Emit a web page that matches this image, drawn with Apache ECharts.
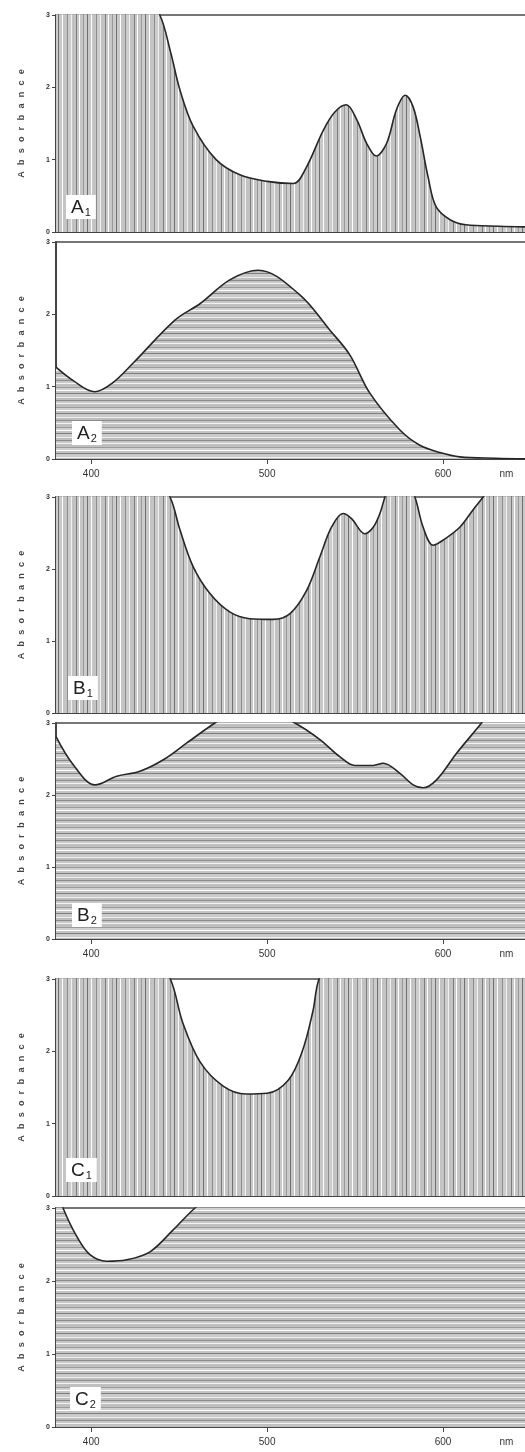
<!DOCTYPE html>
<html>
<head>
<meta charset="utf-8">
<script src="https://cdn.jsdelivr.net/npm/echarts@6/dist/echarts.min.js"></script>
<style>
  html, body { margin: 0; padding: 0; background: #fff; }
  #main { width: 525px; height: 1452px; }
</style>
</head>
<body>
<div id="main"></div>
<script>
// wavelength ticks on the shared x axes
const xTicks = [400, 500, 600]
const nmPos = 636          // where the "nm" unit label sits
const yTickLabels = ['0', '1', '2', '3']

// A1 – vertical hatch
const nmA1  = [380, 420, 439, 445, 450.5, 458, 471, 484.5, 500, 515, 522, 532, 538.5, 545, 551, 556.5, 562, 568, 573.5, 578.5, 583, 587, 591.5, 596, 604, 613, 632, 650]
const absA1 = [4.0, 3.8, 3.0, 2.5, 1.96, 1.46, 1.0, 0.79, 0.70, 0.67, 0.88, 1.41, 1.66, 1.76, 1.55, 1.23, 1.05, 1.23, 1.69, 1.89, 1.73, 1.32, 0.76, 0.35, 0.17, 0.10, 0.08, 0.07]
// A2 – horizontal hatch
const nmA2  = [380, 390, 402, 412, 424, 447.6, 462, 479, 495, 518.6, 535.7, 547, 558.4, 575.5, 586.8, 598.2, 609.5, 630, 650]
const absA2 = [1.27, 1.08, 0.93, 1.05, 1.33, 1.92, 2.15, 2.48, 2.61, 2.27, 1.78, 1.44, 0.91, 0.40, 0.19, 0.09, 0.03, 0.01, 0.0]
// B1
const nmB1  = [380, 430, 444.8, 450.5, 458, 467.5, 479, 490, 503.5, 513, 522.4, 530, 536.6, 543.2, 548, 555.5, 560.3, 564.1, 567, 575, 584, 588.7, 594.4, 600, 609.5, 617, 622.8, 635, 650]
const absB1 = [3.8, 3.6, 3.0, 2.54, 2.03, 1.66, 1.40, 1.31, 1.30, 1.38, 1.70, 2.17, 2.58, 2.77, 2.70, 2.49, 2.58, 2.77, 3.0, 3.5, 3.0, 2.58, 2.33, 2.40, 2.58, 2.82, 3.0, 3.4, 3.6]
// B2
const nmB2  = [380, 389.8, 402.2, 414.5, 427.7, 441, 454.2, 470.3, 490, 515.8, 530, 541.4, 549.9, 560.3, 566, 575.5, 583, 588.7, 596.3, 607.7, 621.9, 635, 650]
const absB2 = [2.81, 2.42, 2.14, 2.26, 2.33, 2.49, 2.72, 3.0, 3.3, 3.0, 2.77, 2.53, 2.41, 2.41, 2.44, 2.30, 2.14, 2.10, 2.21, 2.58, 3.0, 3.4, 3.6]
// C1
const nmC1  = [380, 430, 445, 452, 462, 475, 488, 500, 512, 520, 526, 529.5, 540, 650]
const absC1 = [3.8, 3.6, 3.0, 2.4, 1.85, 1.52, 1.41, 1.42, 1.6, 2.0, 2.55, 3.0, 3.5, 3.8]
// C2
const nmC2  = [380, 384, 391.8, 399.3, 408.8, 420.2, 433.4, 446.6, 459, 480, 650]
const absC2 = [3.3, 3.0, 2.61, 2.36, 2.27, 2.29, 2.40, 2.70, 3.0, 3.4, 3.8]

// gray hatch made of uneven stripes: [colour, width]
const vStripes = [['#707070', 1], ['#c8c8c8', 3], ['#ffffff', 1], ['#c4c4c4', 4], ['#8c8c8c', 1], ['#cdcdcd', 3], ['#f0f0f0', 1],
                  ['#c2c2c2', 4], ['#7c7c7c', 1], ['#c9c9c9', 2], ['#ffffff', 1], ['#c6c6c6', 3], ['#999999', 1], ['#cbcbcb', 3]]
const hStripes = [['#8a8a8a', 1], ['#c8c8c8', 2], ['#f2f2f2', 1], ['#c0c0c0', 3], ['#9a9a9a', 1], ['#d0d0d0', 2], ['#ffffff', 1],
                  ['#c4c4c4', 2], ['#7e7e7e', 1], ['#cacaca', 3], ['#eeeeee', 1], ['#bebebe', 2]]

function hatch(vertical) {
  const seq = vertical ? vStripes : hStripes
  const n = seq.reduce((s, d) => s + d[1], 0)
  const c = document.createElement('canvas')
  c.width = vertical ? n : 4
  c.height = vertical ? 4 : n
  const ctx = c.getContext('2d')
  let pos = 0
  seq.forEach(([col, w]) => {
    ctx.fillStyle = col
    if (vertical) ctx.fillRect(pos, 0, w, 4)
    else ctx.fillRect(0, pos, 4, w)
    pos += w
  })
  return c
}

const panels = [
  { label: 'A', sub: '1', nm: nmA1, abs: absA1, top: 15,   height: 217, vertical: true,  lx: 66, ly: 194,  showX: false },
  { label: 'A', sub: '2', nm: nmA2, abs: absA2, top: 242,  height: 217, vertical: false, lx: 72, ly: 420,  showX: true },
  { label: 'B', sub: '1', nm: nmB1, abs: absB1, top: 497,  height: 216, vertical: true,  lx: 68, ly: 675,  showX: false },
  { label: 'B', sub: '2', nm: nmB2, abs: absB2, top: 723,  height: 216, vertical: false, lx: 72, ly: 902,  showX: true },
  { label: 'C', sub: '1', nm: nmC1, abs: absC1, top: 979,  height: 217, vertical: true,  lx: 66, ly: 1157, showX: false },
  { label: 'C', sub: '2', nm: nmC2, abs: absC2, top: 1208, height: 219, vertical: false, lx: 70, ly: 1386, showX: true }
]

const absName = 'A\u2002\u2009b\u2002\u2009s\u2002\u2009o\u2002\u2009r\u2002\u2009b\u2002\u2009a\u2002\u2009n\u2002\u2009c\u2002\u2009e'
const axisColor = '#444'

const option = {
  animation: false,
  backgroundColor: '#fff',
  title: panels.map(p => ({
    text: `{m|${p.label}}{s|${p.sub}}`,
    left: p.lx,
    top: p.ly,
    backgroundColor: '#fff',
    padding: [3, 5, 1, 5],
    textStyle: {
      fontWeight: 'normal',
      rich: {
        m: { fontSize: 19, color: '#222', fontWeight: 'normal', fontFamily: 'Liberation Sans', lineHeight: 22 },
        s: { fontSize: 11, color: '#222', fontWeight: 'normal', fontFamily: 'Liberation Sans', lineHeight: 22, padding: [9, 0, 0, 1] }
      }
    }
  })),
  grid: panels.map(p => ({
    left: 56, width: 475, top: p.top, height: p.height,
    outerBoundsMode: 'none',
    containLabel: false,
    show: true, borderColor: '#4a4a4a', borderWidth: 1.5
  })),
  xAxis: panels.map((p, i) => ({
    type: 'value', gridIndex: i, min: 380, max: 650,
    axisLine: { show: true, onZero: false, lineStyle: { color: axisColor, width: 2 } },
    axisTick: { show: p.showX, customValues: xTicks, length: 5, lineStyle: { color: axisColor } },
    axisLabel: {
      show: p.showX,
      customValues: xTicks.concat([nmPos]),
      formatter: v => (v === nmPos ? 'nm' : String(v)),
      fontSize: 10, color: '#333', margin: 10, fontFamily: 'Liberation Sans'
    },
    splitLine: { show: false }
  })),
  yAxis: panels.map((p, i) => ({
    type: 'value', gridIndex: i, min: 0, max: 3, interval: 1,
    name: absName, nameLocation: 'middle', nameGap: 30,
    nameTextStyle: { fontSize: 9, fontWeight: 'bold', color: '#444', fontFamily: 'Liberation Sans' },
    axisLine: { show: true, lineStyle: { color: axisColor, width: 2 } },
    axisTick: { show: true, length: 4, lineStyle: { color: axisColor } },
    axisLabel: { fontSize: 7, fontWeight: 'bold', color: '#333', margin: 6, formatter: v => yTickLabels[v] },
    splitLine: { show: false }
  })),
  series: panels.map((p, i) => ({
    type: 'line',
    xAxisIndex: i, yAxisIndex: i,
    data: p.nm.map((x, j) => [x, p.abs[j]]),
    smooth: 0.35,
    symbol: 'none',
    clip: true,
    lineStyle: { color: '#262626', width: 1.6 },
    areaStyle: { color: { image: hatch(p.vertical), repeat: 'repeat' }, opacity: 1 }
  }))
}

const chart = echarts.init(document.getElementById('main'), null, { renderer: 'canvas' })
chart.setOption(option)
</script>
</body>
</html>
